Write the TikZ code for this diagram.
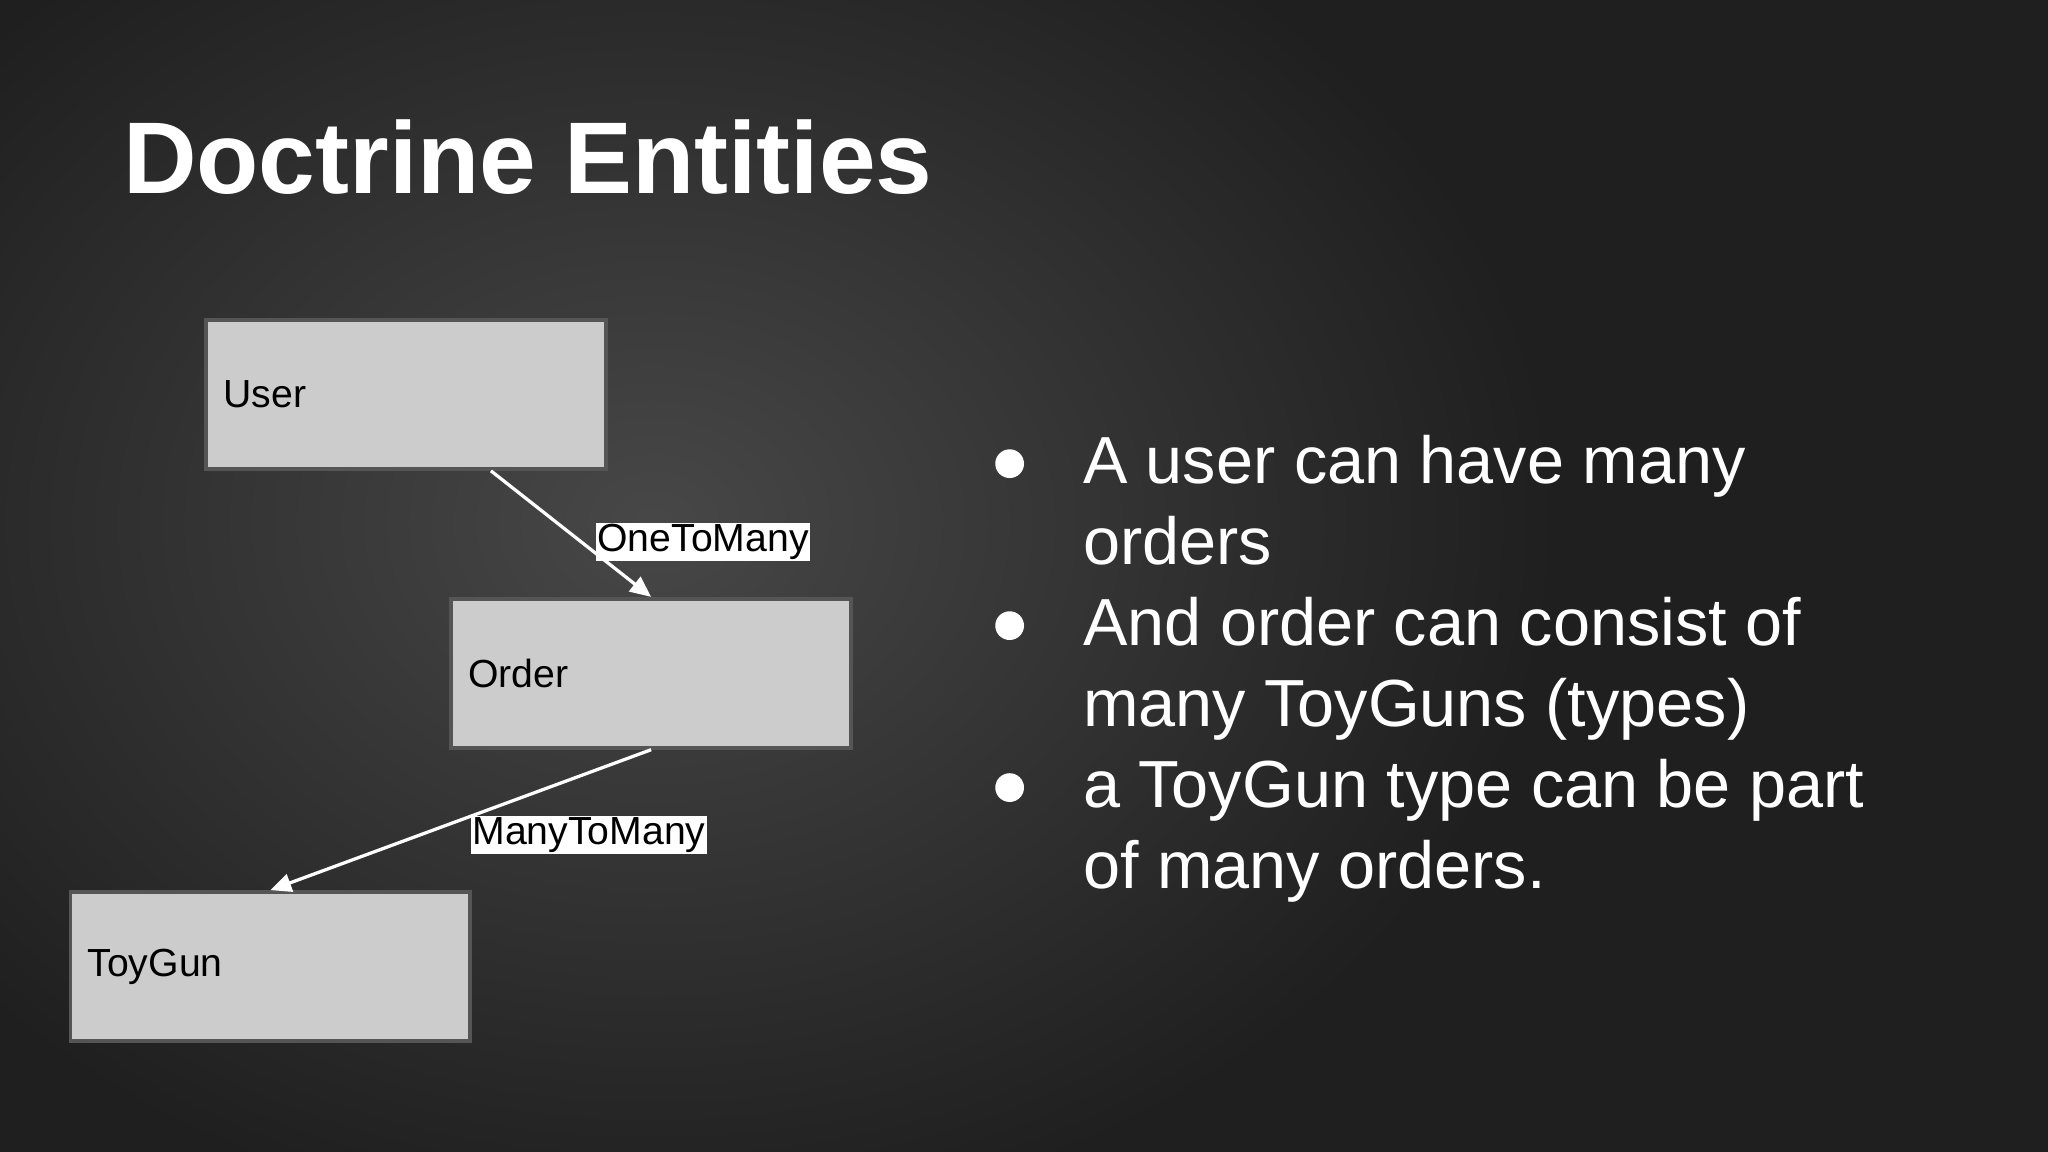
\documentclass[tikz,border=0pt]{standalone}
\usepackage{fontspec}
\setmainfont{Liberation Sans}
\usetikzlibrary{calc,arrows.meta}
\definecolor{boxfill}{HTML}{CCCCCC}
\definecolor{boxline}{HTML}{555555}
\tikzset{
 entity/.style={draw=boxline,line width=3pt,fill=boxfill,minimum width=306pt,minimum height=114pt,text width=280pt,align=left,font=\fontsize{30}{34}\selectfont,inner sep=0pt},
 rel/.style={draw=white,line width=2.5pt,-{Triangle[width=14pt,length=16pt]}},
 rellabel/.style={fill=white,text=black,inner sep=1pt,font=\fontsize{30}{32}\selectfont},
 bullet/.style={anchor=base west,text=white,font=\fontsize{51}{56}\selectfont,inner sep=0pt}
}
\begin{document}
\begin{tikzpicture}[x=1pt,y=-1pt]
\useasboundingbox (0,0) rectangle (1568,882);
\begin{scope}
\clip (0,0) rectangle (1568,882);
\fill[black!88!white] (0,0) rectangle (1568,882);
\shade[inner color=black!72!white, outer color=black!88!white] (-200,-150) rectangle (1200,950);
\end{scope}
\node[anchor=base west,text=white,font=\bfseries\fontsize{78}{84}\selectfont,inner sep=0pt] (title) at (94,148) {Doctrine Entities};
\node[entity] (user) at (311,302) {User};
\node[entity] (order) at (498.5,515.5) {Order};
\node[entity] (toy) at (207,740) {ToyGun};
\coordinate (u1) at ($(user.south west)!0.71!(user.south east)$);
\draw[rel] (u1) -- (order.north) node[rellabel,pos=0.5,anchor=west,xshift=18pt,yshift=-6pt] (l1) {OneToMany};
\draw[rel] (order.south) -- (toy.north) node[rellabel,pos=0.35,anchor=north west,xshift=-37pt,yshift=-12pt] (l2) {ManyToMany};
\foreach \y/\t in {370/A user can have many,432/orders,494/And order can consist of,556/many ToyGuns (types),618/a ToyGun type can be part,680/of many orders.}
  \node[bullet] at (829,\y) {\t};
\foreach \y in {355,479,603} \fill[white] (773,\y) circle (11pt);
\end{tikzpicture}
\end{document}
